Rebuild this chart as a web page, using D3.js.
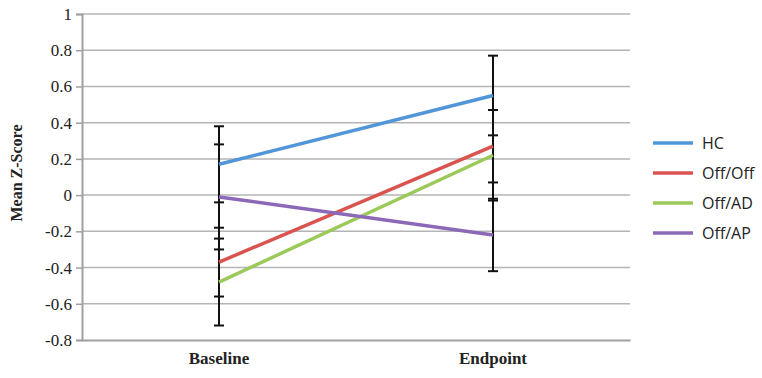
<!DOCTYPE html>
<html>
<head>
<meta charset="utf-8">
<script src="https://cdn.jsdelivr.net/npm/d3@7"></script>
<style>
  body { margin: 0; background: #fff; }
  svg { display: block; }
</style>
</head>
<body>
<svg id="chart" width="762" height="378"></svg>
<script>
// data
var timepoints = ["Baseline", "Endpoint"];
var groups = ["HC", "Off/Off", "Off/AD", "Off/AP"];
var colors = ["#5096d8", "#d9534f", "#9bc95a", "#8c68b8"];
var means = [
    [0.17, 0.55],
    [-0.37, 0.27],
    [-0.48, 0.22],
    [-0.01, -0.22]
];
var errs = [
    [0.21, 0.22],
    [0.19, 0.2],
    [0.24, 0.25],
    [0.29, 0.2]
];
var yTicks = [-0.8, -0.6, -0.4, -0.2, 0, 0.2, 0.4, 0.6, 0.8, 1];

var svg = d3.select("#chart");
var mLeft = 82, mRight = 630, mTop = 14, mBottom = 340;

var x = d3.scaleBand().domain(timepoints).range([mLeft, mRight]);
var y = d3.scaleLinear().domain([-0.8, 1]).range([mBottom, mTop]);

// gridlines
svg.append("g")
    .selectAll("line")
    .data(yTicks.slice(1))
    .enter().append("line")
    .attr("x1", mLeft).attr("x2", mRight)
    .attr("y1", function(d) { return y(d); })
    .attr("y2", function(d) { return y(d); })
    .attr("stroke", "#b4b4b4")
    .attr("stroke-width", 1.5);

// y axis
var yAxis = svg.append("g")
    .attr("transform", "translate(" + mLeft + ",0)")
    .call(d3.axisLeft(y).tickValues(yTicks).tickSize(6).tickPadding(4)
        .tickFormat(function(d) { return String(+d.toFixed(1)); }));
yAxis.select(".domain").attr("stroke", "#a0a0a0").attr("stroke-width", 2);
yAxis.selectAll(".tick line").attr("stroke", "#a0a0a0").attr("stroke-width", 1.5);
yAxis.selectAll("text")
    .attr("fill", "#222")
    .style("font-family", "'Liberation Serif', serif")
    .style("font-size", "17px");

// x axis
var xAxis = svg.append("g")
    .attr("transform", "translate(0," + mBottom + ")")
    .call(d3.axisBottom(x).tickSize(0).tickPadding(12));
xAxis.select(".domain").attr("stroke", "#a0a0a0").attr("stroke-width", 2);
xAxis.selectAll("text")
    .attr("fill", "#222")
    .style("font-family", "'Liberation Serif', serif")
    .style("font-weight", "bold")
    .style("font-size", "17px");

// axis title
svg.append("text")
    .attr("transform", "translate(22," + ((mTop + mBottom) / 2 - 4) + ") rotate(-90)")
    .attr("text-anchor", "middle")
    .attr("fill", "#222")
    .style("font-family", "'Liberation Serif', serif")
    .style("font-weight", "bold")
    .style("font-size", "16px")
    .text("Mean Z-Score");

var cx = function(t) { return x(timepoints[t]) + x.bandwidth() / 2; };

// error bars
groups.forEach(function(g, i) {
    means[i].forEach(function(m, t) {
        var e = errs[i][t];
        var eb = svg.append("g").attr("stroke", "#111").attr("stroke-width", 2);
        eb.append("line")
            .attr("x1", cx(t)).attr("x2", cx(t))
            .attr("y1", y(m + e)).attr("y2", y(m - e));
        [m + e, m - e].forEach(function(v) {
            eb.append("line")
                .attr("x1", cx(t) - 5).attr("x2", cx(t) + 5)
                .attr("y1", y(v)).attr("y2", y(v));
        });
    });
});

// series lines
var line = d3.line()
    .x(function(d, t) { return cx(t); })
    .y(function(d) { return y(d); });

svg.append("g")
    .selectAll("path")
    .data(means)
    .enter().append("path")
    .attr("d", line)
    .attr("fill", "none")
    .attr("stroke", function(d, i) { return colors[i]; })
    .attr("stroke-width", 3.5);

// legend
var legend = svg.append("g")
    .selectAll("g")
    .data(groups)
    .enter().append("g")
    .attr("transform", function(d, i) { return "translate(653," + (143 + i * 30) + ")"; });
legend.append("line")
    .attr("x1", 0).attr("x2", 40)
    .attr("stroke", function(d, i) { return colors[i]; })
    .attr("stroke-width", 3.5);
legend.append("text")
    .attr("x", 49).attr("y", 6)
    .attr("fill", "#222")
    .style("font-family", "'Open Sans', sans-serif")
    .style("font-size", "16px")
    .text(function(d) { return d; });
</script>
</body>
</html>
